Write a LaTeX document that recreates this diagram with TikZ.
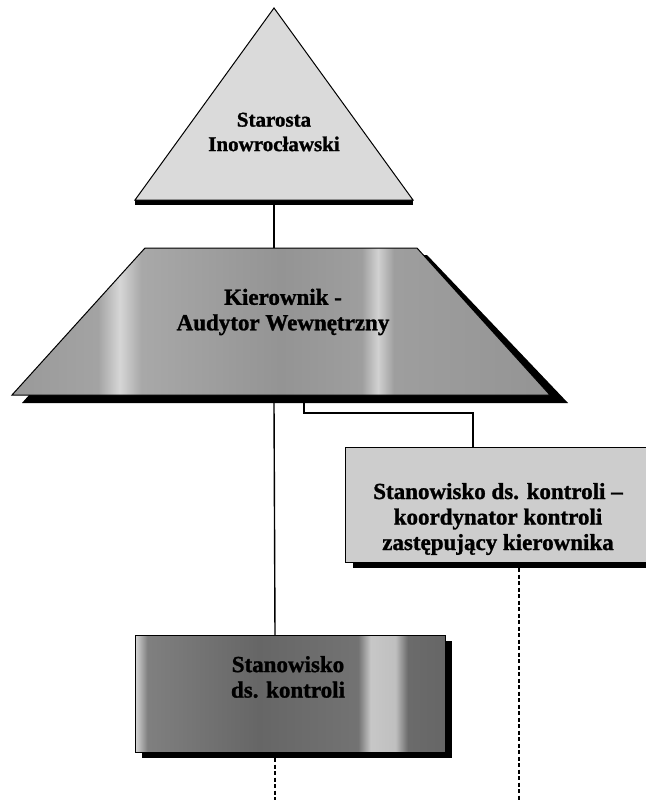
\documentclass[tikz,border=0pt]{standalone}
\usepackage{fontspec}
\setmainfont{Liberation Serif}
\newfontfamily\heavyfont[FakeBold=1.2,Ligatures=TeX]{Liberation Serif Bold}
\pgfdeclarehorizontalshading{trapsh}{100bp}{rgb(0bp)=(0.6,0.6,0.6); rgb(25bp)=(0.6,0.6,0.6); rgb(33bp)=(0.64,0.64,0.64); rgb(35bp)=(0.84,0.84,0.84); rgb(37bp)=(0.66,0.66,0.66); rgb(50bp)=(0.58,0.58,0.58); rgb(57.5bp)=(0.62,0.62,0.62); rgb(59bp)=(0.82,0.82,0.82); rgb(60.5bp)=(0.62,0.62,0.62); rgb(75bp)=(0.58,0.58,0.58); rgb(100bp)=(0.58,0.58,0.58)}
\pgfdeclarehorizontalshading{lowsh}{100bp}{rgb(0bp)=(0.85,0.85,0.85); rgb(25bp)=(0.85,0.85,0.85); rgb(27bp)=(0.5,0.5,0.5); rgb(45bp)=(0.4,0.4,0.4); rgb(61bp)=(0.45,0.45,0.45); rgb(63bp)=(0.78,0.78,0.78); rgb(67bp)=(0.75,0.75,0.75); rgb(69bp)=(0.42,0.42,0.42); rgb(75bp)=(0.4,0.4,0.4); rgb(100bp)=(0.4,0.4,0.4)}
\tikzset{
  lbl/.style={align=center, font=\fontsize{23}{25.5}\selectfont\heavyfont, inner sep=0pt},
  smalllbl/.style={lbl, font=\fontsize{21}{24.5}\selectfont\heavyfont},
  conn/.style={line width=1.4pt},
  dconn/.style={line width=1.2pt, dash pattern=on 4pt off 2.5pt},
  shad/.style={fill=black},
  edge/.style={draw=black, line width=1pt}
}
\begin{document}
\begin{tikzpicture}[x=1pt,y=-1pt]
\useasboundingbox[fill=white] (0,0) rectangle (645,800);
% triangle
\fill[shad] (135,199) rectangle (413,205);
\path[edge, fill={rgb,255:red,218;green,218;blue,218}] (274,8) -- (413,200) -- (135,200) -- cycle;
\node[smalllbl] (starosta) at (274,132) {Starosta\\Inowrocławski};
\coordinate (triB) at (274,205);
% trapezoid
\fill[shad] (154,255) -- (427,255) -- (568,403) -- (22,403) -- cycle;
\path[edge, shading=trapsh] (145,248) -- (417,248) -- (550,395) -- (12,395) -- cycle;
\node[lbl] (kier) at (283,312) {Kierownik -\\Audytor Wewnętrzny};
\coordinate (trapT) at (274,248);
\coordinate (trapB) at (274,403);
\coordinate (trapB2) at (304,403);
% right box
\fill[shad] (353,453) rectangle (660,568);
\path[edge, fill={rgb,255:red,205;green,205;blue,205}] (345,447) rectangle (652,562);
\node[lbl] (koord) at (498,519) {Stanowisko ds. kontroli –\\koordynator kontroli\\zastępujący kierownika};
\coordinate (koT) at (473,447);
\coordinate (koB) at (519,568);
\coordinate (koEnd) at (519,800);
% lower box
\fill[shad] (142,641) rectangle (452,758);
\path[edge, shading=lowsh] (135,635) rectangle (445,752);
\node[lbl] (stan) at (288,677) {Stanowisko\\ds. kontroli};
\coordinate (stT) at (275,635);
\coordinate (stB) at (275,758);
\coordinate (stEnd) at (275,800);
% connectors
\draw[conn] (triB) -- (trapT);
\draw[conn] (trapB) -- (stT);
\draw[conn] (trapB2) |- (473,413) -- (koT);
\draw[dconn] (koB) -- (koEnd);
\draw[dconn] (stB) -- (stEnd);
\end{tikzpicture}
\end{document}
